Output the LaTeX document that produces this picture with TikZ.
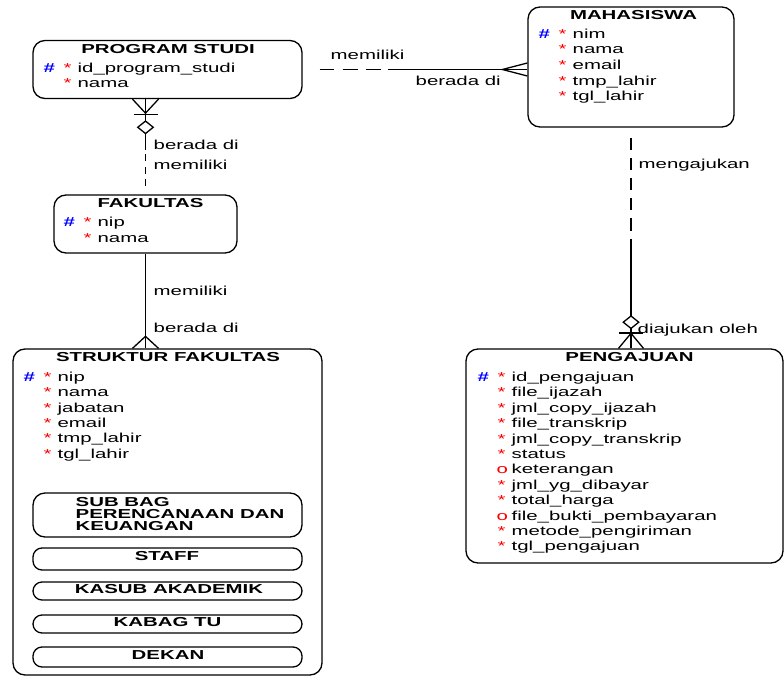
\documentclass[tikz,border=0pt]{standalone}
\usepackage{fontspec}
\setmainfont{Liberation Sans}[FakeStretch=1.57]
\usetikzlibrary{positioning,shapes.geometric}
\definecolor{keyblue}{RGB}{0,0,255}
\definecolor{starred}{RGB}{255,0,0}
\newcommand{\pkrow}[1]{\makebox[20pt][l]{\textcolor{keyblue}{\bfseries\#}}\makebox[14pt][l]{\textcolor{starred}{*}}#1}
\newcommand{\mrow}[1]{\hspace*{20pt}\makebox[14pt][l]{\textcolor{starred}{*}}#1}
\newcommand{\orow}[1]{\hspace*{19pt}\makebox[15pt][l]{\textcolor{starred}{o}}#1}
\begin{document}
\begin{tikzpicture}[x=1pt, y=-1pt, line width=1.3pt,
    every node/.style={font=\fontsize{13}{15.4}\selectfont, inner sep=0pt},
    entity/.style={draw, rectangle, rounded corners=12pt},
    subentity/.style={draw, rectangle, rounded corners=9pt, minimum width=269pt},
    title/.style={anchor=base, font=\fontsize{13}{15.4}\selectfont\bfseries},
    subtitle/.style={anchor=base, font=\fontsize{13}{11.7}\selectfont\bfseries},
    attr/.style={anchor=base west},
    rel/.style={anchor=base west},
    optional/.style={diamond, draw, fill=white, minimum width=16pt, minimum height=13pt}]
    \useasboundingbox(0, 0)rectangle(784, 677);

    \node[entity, minimum width=269pt, minimum height=58pt](prodi)at(167.5, 69.5){};
    \node[entity, minimum width=206pt, minimum height=120pt](mhs)at(631, 67){};
    \node[entity, minimum width=183pt, minimum height=58pt](fak)at(145.5, 224){};
    \node[entity, minimum width=309pt, minimum height=326pt](struk)at(167.5, 512){};
    \node[entity, minimum width=317pt, minimum height=214pt](peng)at(624.5, 456){};

    \node[title](prodit)at(168, 53){PROGRAM STUDI};
    \node[attr](prodi1)at(43, 72){\pkrow{id\_program\_studi}};
    \node[attr](prodi2)at(43, 87.5){\mrow{nama}};

    \node[title](mhst)at(633.5, 19.5){MAHASISWA};
    \node[attr](mhs1)at(538, 38.5){\pkrow{nim}};
    \node[attr](mhs2)at(538, 54){\mrow{nama}};
    \node[attr](mhs3)at(538, 69.5){\mrow{email}};
    \node[attr](mhs4)at(538, 85){\mrow{tmp\_lahir}};
    \node[attr](mhs5)at(538, 100.5){\mrow{tgl\_lahir}};

    \node[title](fakt)at(150.5, 207){FAKULTAS};
    \node[attr](fak1)at(63, 226.5){\pkrow{nip}};
    \node[attr](fak2)at(63, 242){\mrow{nama}};

    \node[title](strukt)at(168, 361.5){STRUKTUR FAKULTAS};
    \node[attr](struk1)at(23, 381.5){\pkrow{nip}};
    \node[attr](struk2)at(23, 396.9){\mrow{nama}};
    \node[attr](struk3)at(23, 412.2){\mrow{jabatan}};
    \node[attr](struk4)at(23, 427.5){\mrow{email}};
    \node[attr](struk5)at(23, 442.9){\mrow{tmp\_lahir}};
    \node[attr](struk6)at(23, 458.3){\mrow{tgl\_lahir}};

    \node[subentity, rounded corners=12pt, minimum height=44pt](subbag)at(167.5, 515){};
    \node[subentity, minimum height=22pt](staff)at(167.5, 559){};
    \node[subentity, minimum height=18pt](kasub)at(167.5, 591){};
    \node[subentity, minimum height=18pt](kabag)at(167.5, 624){};
    \node[subentity, minimum height=20pt](dekan)at(167.5, 657){};
    \node[subtitle, anchor=north west, align=left](subbagt)at(75, 497){SUB BAG\\PERENCANAAN DAN\\KEUANGAN};
    \node[subtitle](stafft)at(167, 560.7){STAFF};
    \node[subtitle](kasubt)at(169, 593.3){KASUB AKADEMIK};
    \node[subtitle](kabagt)at(167.5, 626.7){KABAG TU};
    \node[subtitle](dekant)at(168, 659.3){DEKAN};

    \node[title](pengt)at(629.5, 361.5){PENGAJUAN};
    \node[attr](peng1)at(477, 381.5){\pkrow{id\_pengajuan}};
    \node[attr](peng2)at(477, 396.9){\mrow{file\_ijazah}};
    \node[attr](peng3)at(477, 412.3){\mrow{jml\_copy\_ijazah}};
    \node[attr](peng4)at(477, 427.7){\mrow{file\_transkrip}};
    \node[attr](peng5)at(477, 443.1){\mrow{jml\_copy\_transkrip}};
    \node[attr](peng6)at(477, 458.5){\mrow{status}};
    \node[attr](peng7)at(477, 473.9){\orow{keterangan}};
    \node[attr](peng8)at(477, 489.3){\mrow{jml\_yg\_dibayar}};
    \node[attr](peng9)at(477, 504.7){\mrow{total\_harga}};
    \node[attr](peng10)at(477, 520.1){\orow{file\_bukti\_pembayaran}};
    \node[attr](peng11)at(477, 535.5){\mrow{metode\_pengiriman}};
    \node[attr](peng12)at(477, 550.9){\mrow{tgl\_pengajuan}};

    \coordinate(c1b)at(mhs.west|-prodi.east);
    \draw[dash pattern=on 0pt off 17pt on 14pt off 9pt on 15pt off 8pt on 15pt off 7pt on 200pt](prodi.east)--(c1b);
    \draw(c1b)++(0, -6.5)--++(-25, 6.5)--++(25, 6.5);
    \node[rel](r1a)at(330, 59.5){memiliki};
    \node[rel](r1b)at(415, 85){berada di};

    \coordinate(c2a)at(prodi.south-|fak.north);
    \draw[dash pattern=on 51pt off 4pt on 7pt off 6pt on 7pt off 5pt on 7pt off 20pt](c2a)--(fak.north);
    \draw(c2a)++(-13, 0)--++(13, 14)--++(13, -14);
    \draw(c2a)++(-12, 15)--++(24, 0);
    \node[optional, below=21pt of c2a](d1){};
    \node[rel](r2a)at(153, 149.5){berada di};
    \node[rel](r2b)at(153, 169.5){memiliki};

    \coordinate(c3b)at(fak.south|-struk.north);
    \draw(fak.south)--(c3b);
    \draw(c3b)++(-13, 0)--++(13, -12)--++(13, 12);
    \node[rel](r3a)at(153, 295){memiliki};
    \node[rel](r3b)at(153, 332.5){berada di};

    \coordinate(c4b)at(mhs.south|-peng.north);
    \draw[dash pattern=on 0pt off 10pt on 12pt off 8pt on 12pt off 8pt on 12pt off 8pt on 12pt off 8pt on 13pt off 8pt on 200pt](mhs.south)--(c4b);
    \draw(c4b)++(-12.5, 0)--++(12.5, -15)--++(12.5, 15);
    \draw(c4b)++(-12, -15.5)--++(24, 0);
    \node[optional, above=19pt of c4b](d2){};
    \node[rel](r4a)at(638, 168.5){mengajukan};
    \node[rel](r4b)at(637, 333.5){diajukan oleh};
\end{tikzpicture}
\end{document}
